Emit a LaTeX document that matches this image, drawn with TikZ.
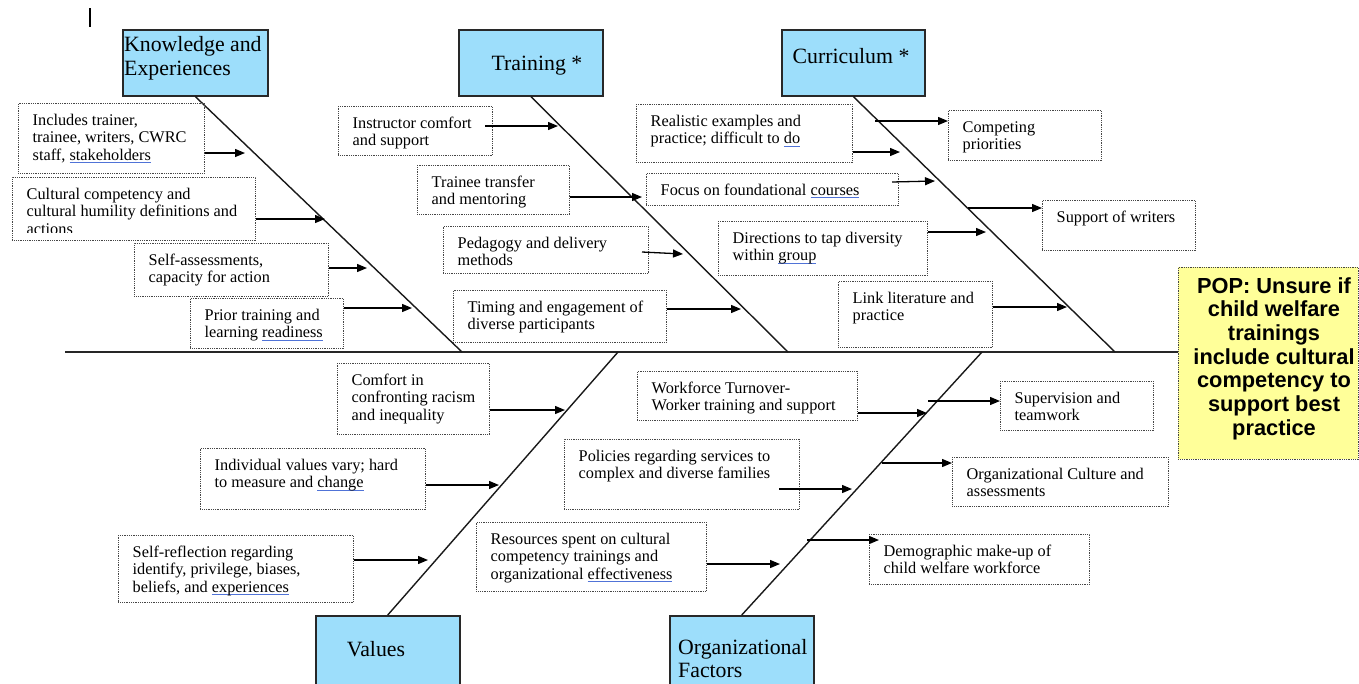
\documentclass[tikz,border=0pt]{standalone}
\usepackage{fontspec}
\setmainfont{Liberation Serif}
\newfontfamily\popfont{Liberation Sans}
\usetikzlibrary{arrows.meta}
\definecolor{catblue}{RGB}{157,222,251}
\definecolor{catborder}{RGB}{40,40,40}
\definecolor{popyellow}{RGB}{255,255,153}
\definecolor{dotgray}{RGB}{70,70,70}
\definecolor{ulblue}{RGB}{80,115,215}
\newsavebox\sqbox
\newcommand\sq[1]{\sbox\sqbox{#1}\rlap{\color{ulblue}\rule[-3pt]{\wd\sqbox}{0.8pt}}\usebox\sqbox}
\newcommand\txl[1]{\parbox[t]{400pt}{\raggedright #1}}
\newcommand\txc[2]{\parbox[t]{#1}{\centering #2}}
\newcommand\causebox[6]{%
  \node[cbox,minimum width=#4pt,minimum height=#5pt] (#1) at (#2,#3) {};
  \node[ctext] (#1t) at ([shift={(14.5,22)}]#1.north west) {\txl{#6}};}
\begin{document}
\begin{tikzpicture}[x=1pt,y=-1pt,
  cat/.style={draw=catborder,line width=1.5pt,fill=catblue,anchor=north west,inner sep=0pt},
  cbox/.style={draw=dotgray,line width=0.9pt,dash pattern=on 0.9pt off 0.9pt,anchor=north west,inner sep=0pt},
  ctext/.style={inner sep=0pt,anchor=base west,font=\fontsize{16.3}{17.5}\selectfont},
  cattext/.style={inner sep=0pt,font=\fontsize{21.8}{23.3}\selectfont},
  poptext/.style={inner sep=0pt,anchor=base,font=\popfont\bfseries\fontsize{21.8}{23.7}\selectfont},
  bone/.style={line width=1.4pt,draw=black!90},
  spine/.style={line width=1.8pt,draw=black!85},
  arr/.style={line width=1.3pt,-{Triangle[length=10pt,width=8pt]}},
]
\useasboundingbox (0,0) rectangle (1359,683);

% cursor mark
\coordinate (cur0) at (90,8);
\coordinate (cur1) at (90,27);
\draw[line width=1.5pt] (cur0) -- (cur1);

% category boxes
\node[cat,minimum width=145pt,minimum height=66pt] (K) at (122,29) {};
\node[cattext,anchor=base west] (Kt) at (124,51.7) {\txl{Knowledge and\\Experiences}};
\node[cat,minimum width=144pt,minimum height=66pt] (T) at (458,29) {};
\node[cattext,anchor=base] (Tt) at (537,70.7) {Training *};
\node[cat,minimum width=143pt,minimum height=66pt] (C) at (781,29) {};
\node[cattext,anchor=base] (Ct) at (851,63.3) {Curriculum *};
\node[cat,minimum width=144pt,minimum height=72pt] (V) at (315,615) {};
\node[cattext,anchor=base] (Vt) at (376,656.7) {Values};
\node[cat,minimum width=144pt,minimum height=72pt] (O) at (669,615) {};
\node[cattext,anchor=base west] (Ot) at (678,654) {\txl{Organizational\\Factors}};

% problem box
\node[draw=dotgray,line width=0.9pt,dash pattern=on 0.9pt off 0.9pt,fill=popyellow,anchor=north west,inner sep=0pt,minimum width=180pt,minimum height=192pt] (pop) at (1178,267) {};
\node[poptext] (popt) at (1274,293) {\txc{180pt}{POP: Unsure if\\child welfare\\trainings\\include cultural\\competency to\\support best\\practice}};

% spine and bones
\coordinate (sp0) at (65,352);
\draw[spine] (sp0) -- (pop.west |- sp0);
\coordinate (kS) at (462,352);
\coordinate (tS) at (788,352);
\coordinate (cS) at (1115,352);
\coordinate (vS) at (618,352);
\coordinate (oS) at (982,352);
\draw[bone] (K.south) -- (kS);
\draw[bone] (T.south) -- (tS);
\draw[bone] (C.south) -- (cS);
\draw[bone] (V.north) -- (vS);
\draw[bone] (O.north) -- (oS);

% Knowledge causes
\causebox{k1}{18}{103}{186}{70}{Includes trainer,\\trainee, writers, CWRC\\staff, \sq{stakeholders}}
\node[cbox,minimum width=243pt,minimum height=63pt] (k2) at (12,177) {};
\begin{scope}
\clip (12,177) rectangle (255,232.5);
\node[ctext] (k2t) at ([shift={(14.5,22)}]k2.north west) {\txl{Cultural competency and\\cultural humility definitions and\\actions}};
\end{scope}
\causebox{k3}{134}{243}{194}{53}{Self-assessments,\\capacity for action}
\causebox{k4}{190}{298}{153}{50}{Prior training and\\learning \sq{readiness}}

% Training causes
\causebox{t1}{338}{106}{154}{49}{Instructor comfort\\and support}
\causebox{t2}{417}{165}{152}{49}{Trainee transfer\\and mentoring}
\causebox{t3}{443}{226}{205}{47}{Pedagogy and delivery\\methods}
\causebox{t4}{453}{290}{213}{52}{Timing and engagement of\\diverse participants}

% Curriculum causes
\causebox{c1}{636}{104}{216}{58}{Realistic examples and\\practice; difficult to \sq{do}}
\causebox{c2}{646}{173}{252}{32}{Focus on foundational \sq{courses}}
\causebox{c3}{718}{221}{209}{54}{Directions to tap diversity\\within \sq{group}}
\causebox{c4}{838}{281}{154}{66}{Link literature and\\practice}
\causebox{c5}{948}{110}{153}{50}{Competing\\priorities}
\causebox{c6}{1042}{200}{153}{50}{Support of writers}

% Values causes
\causebox{v1}{337}{363}{152}{71}{Comfort in\\confronting racism\\and inequality}
\causebox{v2}{200}{448}{225}{61}{Individual values vary; hard\\to measure and \sq{change}}
\causebox{v3}{118}{535}{235}{67}{Self-reflection regarding\\identify, privilege, biases,\\beliefs, and \sq{experiences}}

% Organizational causes
\causebox{o1}{637}{371}{220}{49}{Workforce Turnover-\\Worker training and support}
\causebox{o2}{564}{439}{235}{70}{Policies regarding services to\\complex and diverse families}
\causebox{o3}{476}{522}{230}{69}{Resources spent on cultural\\competency trainings and\\organizational \sq{effectiveness}}
\causebox{o4}{1000}{381}{153}{49}{Supervision and\\teamwork}
\causebox{o5}{952}{457}{216}{49}{Organizational Culture and\\assessments}
\causebox{o6}{869}{534}{220}{50}{Demographic make-up of\\child welfare workforce}

% arrows
\coordinate (k1e) at (245,153);
\coordinate (k2e) at (325,219);
\coordinate (k3e) at (367,268);
\coordinate (k4e) at (412,308);
\draw[arr] (k1.east |- k1e) -- (k1e);
\draw[arr] (k2.east |- k2e) -- (k2e);
\draw[arr] (k3.east |- k3e) -- (k3e);
\draw[arr] (k4.east |- k4e) -- (k4e);

\coordinate (t1s) at (485,126);
\coordinate (t1e) at (558,126);
\coordinate (t2e) at (642,197);
\coordinate (t3s) at (642,252);
\coordinate (t3e) at (683,254);
\coordinate (t4e) at (741,309);
\draw[arr] (t1s) -- (t1e);
\draw[arr] (t2.east |- t2e) -- (t2e);
\draw[arr] (t3s) -- (t3e);
\draw[arr] (t4.east |- t4e) -- (t4e);

\coordinate (c1e) at (900,152);
\coordinate (c2s) at (892,182);
\coordinate (c2e) at (935,181);
\coordinate (c3e) at (986,232);
\coordinate (c4e) at (1067,307);
\coordinate (c5s) at (875,121);
\coordinate (c6s) at (968,208);
\draw[arr] (c1.east |- c1e) -- (c1e);
\draw[arr] (c2s) -- (c2e);
\draw[arr] (c3.east |- c3e) -- (c3e);
\draw[arr] (c4.east |- c4e) -- (c4e);
\draw[arr] (c5s) -- (c5.west |- c5s);
\draw[arr] (c6s) -- (c6.west |- c6s);

\coordinate (v1e) at (565,410);
\coordinate (v2e) at (499,485);
\coordinate (v3e) at (428,560);
\draw[arr] (v1.east |- v1e) -- (v1e);
\draw[arr] (v2.east |- v2e) -- (v2e);
\draw[arr] (v3.east |- v3e) -- (v3e);

\coordinate (o1e) at (927,413);
\coordinate (o2s) at (779,489);
\coordinate (o2e) at (852,489);
\coordinate (o3e) at (780,564);
\coordinate (o4s) at (928,401);
\coordinate (o5s) at (882,463);
\coordinate (o6s) at (807,540);
\coordinate (o6e) at (879,540);
\draw[arr] (o1.east |- o1e) -- (o1e);
\draw[arr] (o2s) -- (o2e);
\draw[arr] (o3.east |- o3e) -- (o3e);
\draw[arr] (o4s) -- (o4.west |- o4s);
\draw[arr] (o5s) -- (o5.west |- o5s);
\draw[arr] (o6s) -- (o6e);
\end{tikzpicture}
\end{document}
